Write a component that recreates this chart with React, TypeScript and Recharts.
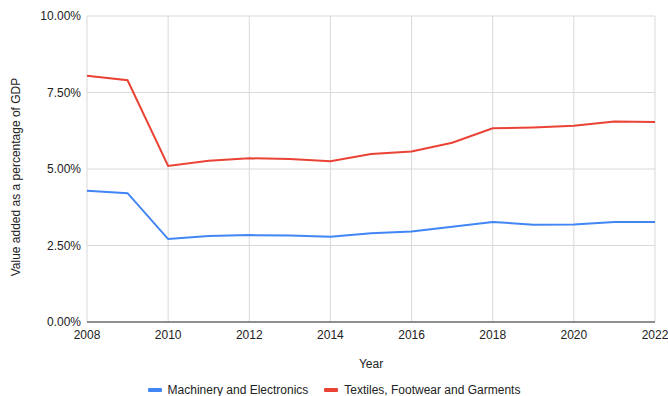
import React from "react";
import { LineChart, Line, XAxis, YAxis, CartesianGrid, Legend } from "recharts";

const years = [2008, 2009, 2010, 2011, 2012, 2013, 2014, 2015, 2016, 2017, 2018, 2019, 2020, 2021, 2022];
const machinery = [4.29, 4.21, 2.71, 2.81, 2.84, 2.83, 2.79, 2.9, 2.96, 3.11, 3.27, 3.18, 3.19, 3.27, 3.27];
const textiles = [8.05, 7.9, 5.1, 5.27, 5.35, 5.33, 5.25, 5.49, 5.57, 5.86, 6.33, 6.36, 6.41, 6.55, 6.54];
const xTicks = [2008, 2010, 2012, 2014, 2016, 2018, 2020, 2022];
const yTicks = [0, 2.5, 5, 7.5, 10];

const seriesNames = ["Machinery and Electronics", "Textiles, Footwear and Garments"];
const colors = ["#4285F4", "#EA4335"];

const data = years.map((y, i) => ({ year: y, m: machinery[i], t: textiles[i] }));

const FONT = "'Liberation Sans', Arial, sans-serif";

const LegendContent = () => (
  <div
    style={{
      display: "flex",
      justifyContent: "center",
      alignItems: "center",
      fontFamily: FONT,
      fontSize: 12,
      color: "#222",
      height: 24,
      paddingTop: 12,
      paddingLeft: 13,
      boxSizing: "border-box",
    }}
  >
    {seriesNames.map((n, i) => (
      <div key={n} style={{ display: "flex", alignItems: "center", marginRight: i === 0 ? 16 : 0 }}>
        <div style={{ width: 14, height: 4, background: colors[i], marginRight: 6, borderRadius: 1 }} />
        <span>{n}</span>
      </div>
    ))}
  </div>
);

export default function App() {
  return (
    <div style={{ position: "absolute", left: 0, top: 0, width: 668, height: 396, background: "#fff" }}>
      <LineChart
        width={668}
        height={396}
        data={data}
        margin={{ top: 16, right: 13, left: 0, bottom: 0 }}
        style={{ fontFamily: FONT }}
      >
        <CartesianGrid stroke="#d9d9d9" strokeWidth={1} />
        <XAxis
          dataKey="year"
          type="number"
          domain={[2008, 2022]}
          ticks={xTicks}
          interval={0}
          height={50}
          tickSize={8}
          tickMargin={0}
          tickLine={false}
          axisLine={{ stroke: "#333", strokeWidth: 1 }}
          tick={{ fill: "#222", fontSize: 12, fontFamily: FONT }}
          label={{
            content: () => (
              <text x={371} y={364} textAnchor="middle" dominantBaseline="central" fill="#222" fontSize={12} fontFamily={FONT}>
                Year
              </text>
            ),
          }}
        />
        <YAxis
          type="number"
          domain={[0, 10]}
          ticks={yTicks}
          interval={0}
          width={87}
          tickSize={6}
          tickMargin={0}
          tickLine={false}
          axisLine={false}
          tickFormatter={(v: number) => v.toFixed(2) + "%"}
          tick={{ fill: "#222", fontSize: 12, fontFamily: FONT }}
          label={{
            content: () => (
              <text
                x={16}
                y={177}
                transform="rotate(-90 16 177)"
                textAnchor="middle"
                dominantBaseline="central"
                fill="#222"
                fontSize={12}
                fontFamily={FONT}
              >
                Value added as a percentage of GDP
              </text>
            ),
          }}
        />
        <Legend verticalAlign="bottom" height={24} content={<LegendContent />} />
        <Line
          type="linear"
          dataKey="m"
          name={seriesNames[0]}
          stroke={colors[0]}
          strokeWidth={2}
          dot={false}
          isAnimationActive={false}
        />
        <Line
          type="linear"
          dataKey="t"
          name={seriesNames[1]}
          stroke={colors[1]}
          strokeWidth={2}
          dot={false}
          isAnimationActive={false}
        />
      </LineChart>
    </div>
  );
}
